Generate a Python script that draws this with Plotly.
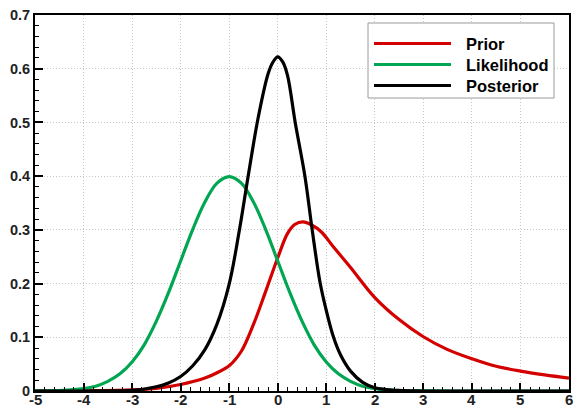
import plotly.graph_objects as go

# ---- data ----
prior_x = [-5, -4, -3, -2.5, -2, -1.5, -1.25, -1, -0.75, -0.5, -0.25, 0, 0.2, 0.35, 0.52,
           0.7, 0.9, 1.15, 1.5, 2, 2.5, 3, 3.5, 4, 4.5, 5, 5.5, 6]
prior_y = [0.0, 0.0005, 0.002, 0.005, 0.012, 0.024, 0.034, 0.047, 0.074, 0.124, 0.185, 0.248,
           0.293, 0.310, 0.315, 0.309, 0.296, 0.268, 0.230, 0.174, 0.133, 0.101, 0.077,
           0.060, 0.046, 0.037, 0.030, 0.024]

like_x = [-5, -4.5, -4, -3.75, -3.5, -3.25, -3, -2.75, -2.5, -2.25, -2, -1.75, -1.5, -1.25, -1,
          -0.75, -0.5, -0.25, 0, 0.25, 0.5, 0.75, 1, 1.25, 1.5, 1.75, 2, 2.5, 3, 4, 5, 6]
like_y = [0.0001, 0.0009, 0.0044, 0.009, 0.018, 0.032, 0.054, 0.086, 0.130, 0.183, 0.242, 0.301,
          0.352, 0.387, 0.399, 0.387, 0.352, 0.301, 0.242, 0.183, 0.130, 0.086, 0.054, 0.032,
          0.018, 0.009, 0.0044, 0.0009, 0.0001, 0.0, 0.0, 0.0]

post_x = [-5, -4, -3.5, -3, -2.5, -2.25, -2, -1.75, -1.5, -1.25, -1, -0.8, -0.6, -0.4, -0.2, -0.1,
          0, 0.1, 0.2, 0.36, 0.56, 0.71, 0.87, 1.0, 1.15, 1.3, 1.5, 1.75, 2, 2.5, 3, 4, 5, 6]
post_y = [0.0, 0.0, 0.0003, 0.001, 0.008, 0.015, 0.027, 0.047, 0.077, 0.125, 0.199, 0.294, 0.405,
          0.510, 0.590, 0.612, 0.622, 0.613, 0.588, 0.500, 0.400, 0.300, 0.203, 0.150, 0.100,
          0.066, 0.037, 0.016, 0.006, 0.001, 0.0, 0.0, 0.0, 0.0]

series_names = ["Prior", "Likelihood", "Posterior"]
series_colors = ["#d40000", "#00a651", "#000000"]

x_ticks = [-5, -4, -3, -2, -1, 0, 1, 2, 3, 4, 5, 6]
x_tick_labels = ["-5", "-4", "-3", "-2", "-1", "0", "1", "2", "3", "4", "5", "6"]
y_ticks = [0, 0.1, 0.2, 0.3, 0.4, 0.5, 0.6, 0.7]
y_tick_labels = ["0", "0.1", "0.2", "0.3", "0.4", "0.5", "0.6", "0.7"]

FONT = "Liberation Sans, Arial, Helvetica, sans-serif"

fig = go.Figure()
for name, color, xs, ys in zip(series_names, series_colors,
                               [prior_x, like_x, post_x], [prior_y, like_y, post_y]):
    fig.add_trace(go.Scatter(x=xs, y=ys, mode="lines", name=name,
                             line=dict(color=color, width=3.2, shape="spline", smoothing=1.0),
                             showlegend=False))

axis_common = dict(
    showline=True, linecolor="black", linewidth=2, mirror=True,
    ticks="inside", ticklen=8, tickwidth=2, tickcolor="black",
    showgrid=True, gridcolor="#c8c8c8", gridwidth=1, griddash="1px,2px",
    zeroline=False,
)

fig.update_xaxes(range=[-5, 6], tickvals=x_ticks, showticklabels=False,
                 minor=dict(ticks="inside", ticklen=4, tickwidth=1, tickcolor="black",
                            dtick=0.2, tick0=-5, showgrid=False),
                 **axis_common)
fig.update_yaxes(range=[0, 0.7], tickvals=y_ticks, ticktext=y_tick_labels,
                 tickfont=dict(family=FONT, size=14.5, color="#222", weight="bold"),
                 minor=dict(ticks="inside", ticklen=4, tickwidth=1, tickcolor="black",
                            dtick=0.02, tick0=0, showgrid=False),
                 **axis_common)

# ---- custom legend (long line samples as in the reference) ----
L, R, T, B = 35, 6, 15, 17
W, H = 575, 408
pw, ph = W - L - R, H - T - B


def px2paper(px, py):
    return (px - L) / pw, (H - B - py) / ph


shapes = []
annotations = []

# x tick labels, placed at the axis' own data positions
for xv, lab in zip(x_ticks, x_tick_labels):
    annotations.append(dict(xref="x", yref="paper", x=xv, y=0, yshift=2, text=lab,
                            showarrow=False, xanchor="center", yanchor="top",
                            font=dict(family=FONT, size=15, color="#222", weight="bold")))

bx0, by0 = px2paper(368, 23)
bx1, by1 = px2paper(554, 98)
shapes.append(dict(type="rect", xref="paper", yref="paper", x0=bx0, y0=by1, x1=bx1, y1=by0,
                   line=dict(color="#9a9a9a", width=1), fillcolor="white", layer="above"))
row_y = [43.5, 64.5, 85.5]
for name, color, ry in zip(series_names, series_colors, row_y):
    lx0, ly = px2paper(374, ry)
    lx1, _ = px2paper(451, ry)
    shapes.append(dict(type="line", xref="paper", yref="paper", x0=lx0, x1=lx1, y0=ly, y1=ly,
                       line=dict(color=color, width=3.2), layer="above"))
    tx, _ = px2paper(464, ry)
    annotations.append(dict(xref="paper", yref="paper", x=tx, y=ly, text=name, showarrow=False,
                            xanchor="left", yanchor="middle",
                            font=dict(family=FONT, size=16.5, color="black", weight="bold")))

fig.update_layout(
    width=W, height=H,
    margin=dict(l=L, r=R, t=T, b=B, autoexpand=False),
    paper_bgcolor="white", plot_bgcolor="white",
    shapes=shapes, annotations=annotations,
    showlegend=False,
)

fig.write_html("out.html", config={"displayModeBar": False},
               post_script="document.body.style.margin='0';document.body.style.overflow='hidden';")
